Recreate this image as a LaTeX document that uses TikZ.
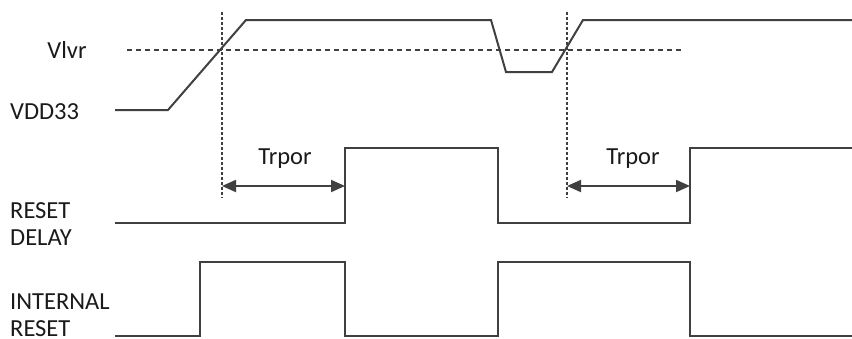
\documentclass[tikz,border=0pt]{standalone}
\usepackage{fontspec}
\setmainfont{Carlito}
\usetikzlibrary{arrows.meta}
\definecolor{wave}{HTML}{404040}
\definecolor{txt}{HTML}{1A1A1A}
\begin{document}
\begin{tikzpicture}[x=1pt,y=-1pt,
  sig/.style={draw=wave,line width=2pt,line join=miter},
  thr/.style={draw=wave,line width=2pt,dash pattern=on 5pt off 4pt},
  vmarker/.style={draw=wave,line width=2pt,dash pattern=on 2.5pt off 2.5pt},
  dim/.style={draw=wave,line width=2pt,{Triangle[length=14pt,width=12pt]}-{Triangle[length=14pt,width=12pt]}},
  lbl/.style={font=\fontsize{24.5}{27}\selectfont,text=txt,inner sep=0pt},
  ]
\useasboundingbox (0,0) rectangle (852,338);
% VDD33
\draw[sig] (115,110) -- (168,110) -- (246,20) -- (491,20) -- (506,72) -- (552,72) -- (583,20) -- (852,20);
% threshold
\draw[thr] (127,50) -- (683,50);
% markers
\coordinate (m1t) at (222,12);
\coordinate (m1b) at (222,198);
\coordinate (m2t) at (567,12);
\coordinate (m2b) at (567,198);
\draw[vmarker] (m1t) -- (m1b);
\draw[vmarker] (m2t) -- (m2b);
% RESET DELAY
\draw[sig] (115,223) -- (345,223) -- (345,148) -- (498,148) -- (498,223) -- (690,223) -- (690,148) -- (852,148);
% INTERNAL RESET
\draw[sig] (115,336) -- (200,336) -- (200,262) -- (345,262) -- (345,336) -- (498,336) -- (498,262) -- (690,262) -- (690,336) -- (852,336);
% dimension arrows
\coordinate (a1l) at (222,186);
\coordinate (a1r) at (345,186);
\coordinate (a2l) at (567,186);
\coordinate (a2r) at (690,186);
\draw[dim] (a1l) -- (a1r);
\draw[dim] (a2l) -- (a2r);
\node[lbl] (t1) at (285,159) {Trpor};
\node[lbl] (t2) at (633,159) {Trpor};
% labels
\node[lbl] (vlvr) at (67,50) {Vlvr};
\node[lbl,anchor=west] (vdd) at (10,112) {VDD33};
\node[lbl,anchor=west,align=left] (rd) at (10,224) {RESET\\DELAY};
\node[lbl,anchor=west,align=left] (ir) at (10,315) {INTERNAL\\RESET};
\end{tikzpicture}
\end{document}
